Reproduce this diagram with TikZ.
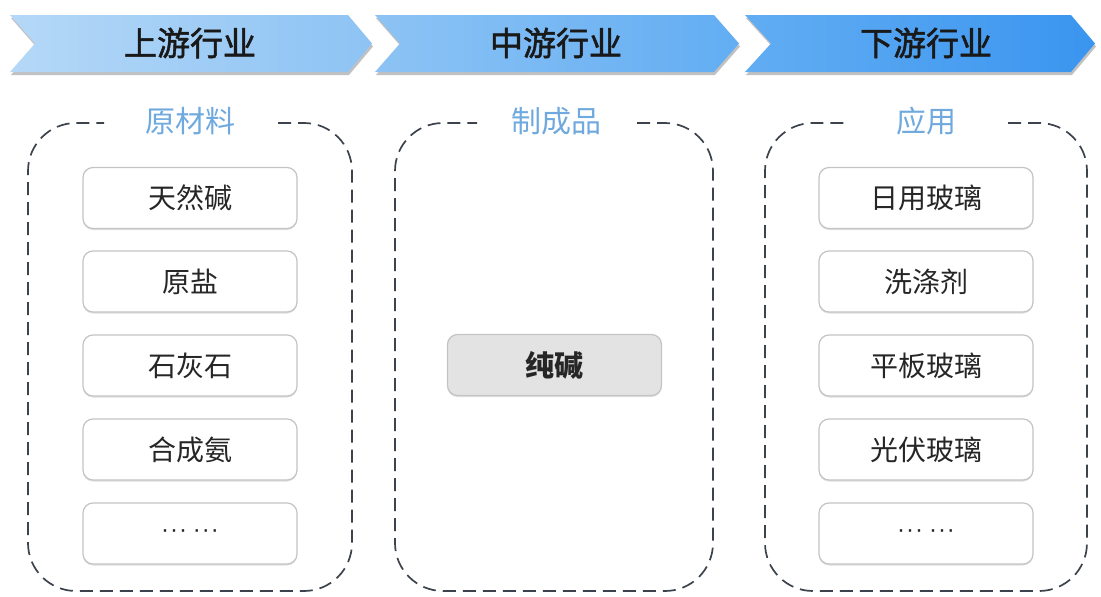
\documentclass[tikz,border=0pt]{standalone}
\usepackage{fontspec}
\setmainfont{Noto Sans CJK SC}
\newfontfamily\ttlfont[FakeBold=1.6]{Noto Sans CJK SC}
\newfontfamily\latfont{Liberation Sans}
\usetikzlibrary{shadows}
\definecolor{ca}{HTML}{B5D8F7}
\definecolor{cb}{HTML}{8DC3F4}
\definecolor{cc}{HTML}{62ADF3}
\definecolor{cd}{HTML}{3A95EF}
\definecolor{lbl}{HTML}{6FA9DE}
\definecolor{dsh}{HTML}{3C434C}
\definecolor{bd}{HTML}{C4C4C4}
\tikzset{
  chev/.style={drop shadow={shadow xshift=1pt,shadow yshift=-3pt,opacity=0.35,fill=black!70}},
  ttl/.style={font=\fontsize{33}{36}\selectfont\ttlfont, text=black!90},
  grp/.style={draw=dsh, line width=1.7pt, dash pattern=on 13pt off 7pt, rounded corners=48pt},
  grplbl/.style={font=\fontsize{30}{34}\selectfont, text=lbl},
  item/.style={draw=bd, line width=1.2pt, fill=white, rounded corners=10pt, minimum width=214pt, minimum height=61pt, font=\fontsize{28}{32}\selectfont, text=black!85, drop shadow={shadow xshift=0pt,shadow yshift=-1.5pt,opacity=0.25}},
  dots/.style={item, font=\fontsize{24}{28}\selectfont\latfont},
  core/.style={item, fill=black!11, font=\fontsize{29}{32}\selectfont\bfseries}
}
\begin{document}
\begin{tikzpicture}[x=1pt,y=-1pt]
\useasboundingbox (0,0) rectangle (1101,597);
% chevrons
\path[chev, left color=ca, right color=cb] (10,15) -- (348,15) -- (372,43.5) -- (348,72) -- (10,72) -- (35,43.5) -- cycle;
\path[chev, left color=cb, right color=cc] (375,15) -- (714,15) -- (739,43.5) -- (714,72) -- (375,72) -- (400,43.5) -- cycle;
\path[chev, left color=cc, right color=cd] (745,15) -- (1071,15) -- (1095,43.5) -- (1071,72) -- (745,72) -- (771,43.5) -- cycle;
\node[ttl] (t1) at (190,43) {上游行业};
\node[ttl] (t2) at (556,43) {中游行业};
\node[ttl] (t3) at (926,43) {下游行业};
% group boxes
\draw[grp] (278,123) -- (352,123) -- (352,591) -- (28,591) -- (28,123) -- (104,123);
\draw[grp] (637,123) -- (713,123) -- (713,591) -- (395,591) -- (395,123) -- (477,123);
\draw[grp] (1008,123) -- (1087,123) -- (1087,591) -- (765,591) -- (765,123) -- (850,123);
\node[grplbl] (g1) at (190,121) {原材料};
\node[grplbl] (g2) at (556,121) {制成品};
\node[grplbl] (g3) at (926,121) {应用};
% left items
\node[item] (a1) at (190,198) {天然碱};
\node[item] (a2) at (190,281.5) {原盐};
\node[item] (a3) at (190,365.5) {石灰石};
\node[item] (a4) at (190,449.5) {合成氨};
\node[dots] (a5) at (190,533.5) {·\kern1pt·\kern1pt·\hspace{6pt}·\kern1pt·\kern1pt·};
% middle
\node[core] (m1) at (554.5,365) {纯碱};
% right items
\node[item] (b1) at (926,198) {日用玻璃};
\node[item] (b2) at (926,281.5) {洗涤剂};
\node[item] (b3) at (926,365.5) {平板玻璃};
\node[item] (b4) at (926,449.5) {光伏玻璃};
\node[dots] (b5) at (926,533.5) {·\kern1pt·\kern1pt·\hspace{6pt}·\kern1pt·\kern1pt·};
\end{tikzpicture}
\end{document}
